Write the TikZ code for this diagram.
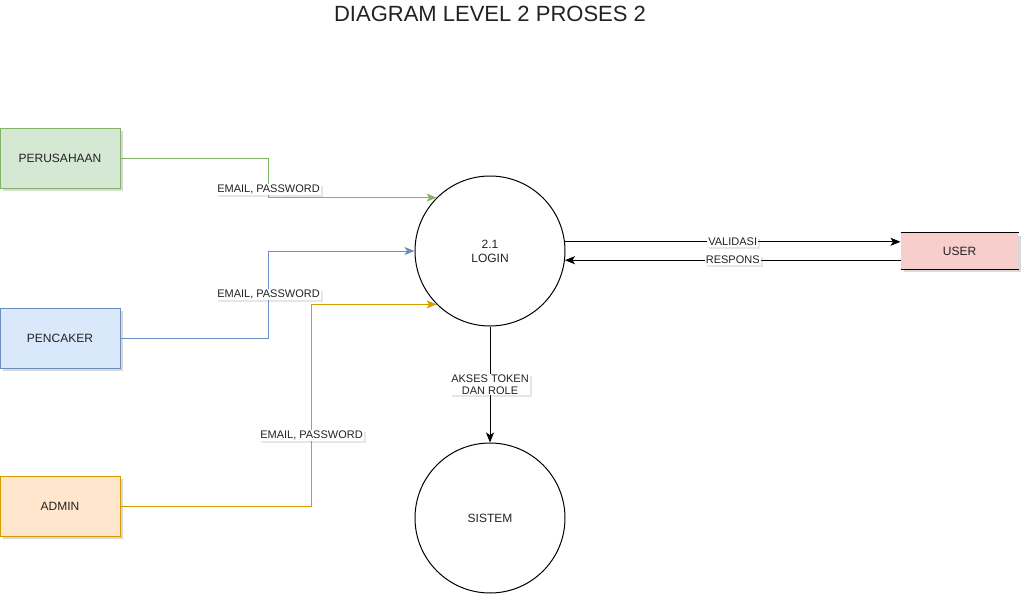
\documentclass[tikz,border=0pt]{standalone}
\usepackage{fontspec}
\setmainfont{Liberation Sans}
\usepackage{tikz}
\usetikzlibrary{positioning,arrows.meta,shadows}
\definecolor{perusahaanfill}{HTML}{D5E8D4}
\definecolor{perusahaanline}{HTML}{82B366}
\definecolor{pencakerfill}{HTML}{DAE8FC}
\definecolor{pencakerline}{HTML}{6C8EBF}
\definecolor{adminfill}{HTML}{FFE6CC}
\definecolor{adminline}{HTML}{D79B00}
\definecolor{userfill}{HTML}{F8CECC}
\definecolor{inkgray}{HTML}{222222}

\begin{document}
\begin{tikzpicture}[x=1pt, y=-1pt,
    entity/.style={line width=1pt, minimum width=120pt, minimum height=60pt,
      inner sep=0pt, text=inkgray, font=\fontsize{12}{14}\selectfont,
      drop shadow={shadow xshift=2.5pt, shadow yshift=-2.5pt, opacity=.3}},
    proc/.style={circle, draw, line width=1pt, fill=white, minimum size=150pt,
      inner sep=0pt, align=center, text=inkgray, font=\fontsize{12}{14}\selectfont},
    flow/.style={line width=1pt, -{Stealth[length=10pt, width=8pt, inset=2.5pt]}},
    flowlabel/.style={fill=white, inner sep=1pt, align=center, text=inkgray,
      font=\fontsize{11}{12}\selectfont,
      drop shadow={shadow xshift=2pt, shadow yshift=-2pt, opacity=.2}}]
  \useasboundingbox (0,0) rectangle (1029,605);

  \node[font=\fontsize{22}{26}\selectfont, text=inkgray] (title) at (490,14) {DIAGRAM LEVEL 2 PROSES 2};

  % external entities
  \node[entity, draw=perusahaanline, fill=perusahaanfill] (perusahaan) at (60,158) {PERUSAHAAN};
  \node[entity, draw=pencakerline, fill=pencakerfill] (pencaker) at (60,338) {PENCAKER};
  \node[entity, draw=adminline, fill=adminfill] (admin) at (60,506) {ADMIN};
  \node[entity, fill=userfill, minimum width=117pt, minimum height=36pt] (user) at (959.5,251) {USER};
  \draw[line width=1pt] (user.north west) -- (user.north east)
                        (user.south west) -- (user.south east);

  % processes
  \node[proc] (login) at (490,251) {2.1\\LOGIN};
  \node[proc] (sistem) at (490,518) {SISTEM};

  % flows
  \draw[flow, perusahaanline] (perusahaan.east) -- ++(148,0) |- (login.135)
    node[pos=.4, flowlabel] {EMAIL, PASSWORD};
  \draw[flow, pencakerline] (pencaker.east) -- ++(148,0) |- (login.west)
    node[pos=.25, flowlabel] {EMAIL, PASSWORD};
  \draw[flow, adminline] (admin.east) -- ++(191,0) |- (login.225)
    node[pos=.175, flowlabel] {EMAIL, PASSWORD};
  \draw[flow] (login.7) -- (login.7 -| user.west)
    node[midway, flowlabel] {VALIDASI};
  \draw[flow] (user.west |- login.-7) -- (login.-7)
    node[midway, flowlabel] {RESPONS};
  \draw[flow] (login) -- (sistem)
    node[midway, flowlabel] {AKSES TOKEN\\DAN ROLE};
\end{tikzpicture}
\end{document}
